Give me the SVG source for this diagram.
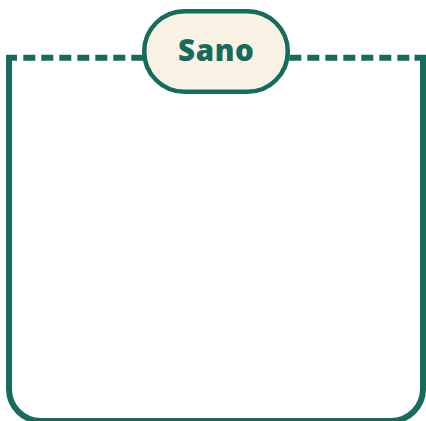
<svg xmlns="http://www.w3.org/2000/svg" width="426" height="421" viewBox="0 0 426 421">
<style>
.frame{fill:none;stroke:#166b5c;stroke-width:6}
.dash{stroke-dasharray:12 6}
.pill{fill:#faf3e5;stroke:#166b5c;stroke-width:4.5}
.label{font-family:"Open Sans","Noto Sans",sans-serif;font-weight:800;font-size:29.5px;letter-spacing:0.6px;fill:#166b5c;text-anchor:middle}
</style>
<g id="connectors">
<path class="frame" d="M6 57.8H17M9 57.8V389A32 32 0 0 0 41 421H391A32 32 0 0 0 423 389V57.8M414.5 57.8H426"/>
<path class="frame dash" d="M23.3 57.8H145"/>
<path class="frame dash" d="M289.3 57.8H410"/>
</g>
<g id="node-sano">
<rect class="pill" x="144.2" y="11.2" width="143.6" height="80.6" rx="40.3"/>
<text class="label" x="216.3" y="61">Sano</text>
</g>
</svg>
